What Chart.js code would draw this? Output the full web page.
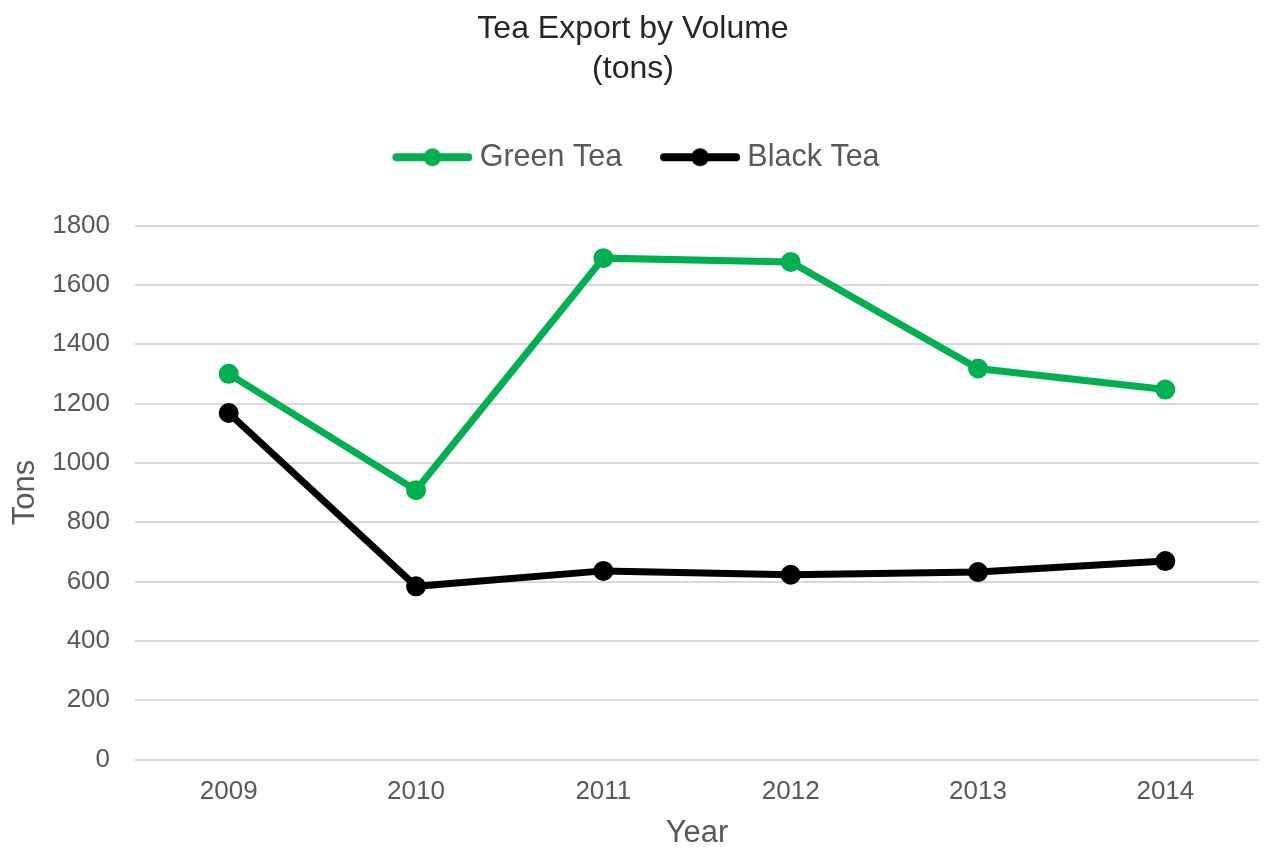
<!DOCTYPE html>
<html>
<head>
<meta charset="utf-8">
<script src="https://cdn.jsdelivr.net/npm/chart.js@4.4.1/dist/chart.umd.min.js"></script>
<style>
  html, body { margin: 0; padding: 0; background: #fff; }
  #wrap { width: 1270px; height: 850px; }
</style>
</head>
<body>
<div id="wrap"><canvas id="chart" width="1270" height="850"></canvas></div>
<script>
const years = ["2009", "2010", "2011", "2012", "2013", "2014"];
const greenTea = [1300, 908, 1690, 1677, 1318, 1247];
const blackTea = [1168, 584, 636, 623, 632, 669];
const yTicks = [0, 200, 400, 600, 800, 1000, 1200, 1400, 1600, 1800];

const GREEN = "#00b050";
const BLACK = "#000000";
const GREY = "#595959";
const FONT = "'Liberation Sans', Arial, sans-serif";

// legend marker: a thick line with a dot, drawn against the right edge
// of a wider image so it sits close to the label text
function legendMarker(color) {
  const c = document.createElement("canvas");
  c.width = 94; c.height = 22;
  const g = c.getContext("2d");
  g.strokeStyle = color; g.lineWidth = 8; g.lineCap = "round";
  g.beginPath(); g.moveTo(18, 11); g.lineTo(90, 11); g.stroke();
  g.fillStyle = color;
  g.beginPath(); g.arc(54, 11, 9, 0, Math.PI * 2); g.fill();
  return c;
}

function series(label, data, color) {
  return {
    label, data,
    borderColor: color, backgroundColor: color,
    borderWidth: 7, pointRadius: 9, pointBorderWidth: 2,
    pointBackgroundColor: color, pointBorderColor: color,
    pointStyle: "circle", tension: 0,
  };
}

new Chart(document.getElementById("chart"), {
  type: "line",
  data: { labels: years, datasets: [series("Green Tea", greenTea, GREEN), series("Black Tea", blackTea, BLACK)] },
  options: {
    responsive: false, animation: false,
    layout: { padding: { left: 0, right: 4, top: 9, bottom: 0 } },
    plugins: {
      title: {
        display: true, text: ["Tea Export by Volume", "(tons)"],
        color: "#262626", font: { family: FONT, size: 32, weight: "normal", lineHeight: 1.25 },
        padding: { top: 0, bottom: 21 },
      },
      // empty subtitle used as a gap between the legend and the plot
      subtitle: {
        display: true, text: "", weight: 500,
        font: { size: 10, lineHeight: 1 }, padding: { top: 0, bottom: 33 },
      },
      legend: {
        position: "top",
        labels: {
          usePointStyle: true, pointStyleWidth: 78,
          color: GREY, font: { family: FONT, size: 30.5 }, padding: 32,
          generateLabels: (chart) => chart.data.datasets.map((ds, i) => ({
            text: ds.label, datasetIndex: i, fontColor: GREY,
            pointStyle: legendMarker(ds.borderColor), lineWidth: 0, hidden: false,
          })),
        },
      },
      tooltip: { enabled: false },
    },
    scales: {
      x: {
        offset: true,
        grid: { display: false, drawTicks: false },
        border: { display: false },
        ticks: { color: GREY, font: { family: FONT, size: 26 }, padding: 17 },
        title: { display: true, text: "Year", color: GREY, font: { family: FONT, size: 31 }, padding: { top: -10, bottom: -2 } },
      },
      y: {
        min: yTicks[0], max: yTicks[yTicks.length - 1],
        grid: { color: "#d9d9d9", lineWidth: 2, drawTicks: false },
        border: { display: false },
        afterBuildTicks: (axis) => { axis.ticks = yTicks.map((v) => ({ value: v })); },
        ticks: { color: GREY, font: { family: FONT, size: 26 }, padding: 25, callback: (v) => String(v) },
        title: { display: true, text: "Tons", color: GREY, font: { family: FONT, size: 31 }, padding: { top: 7, bottom: -17 } },
      },
    },
  },
});
</script>
</body>
</html>
